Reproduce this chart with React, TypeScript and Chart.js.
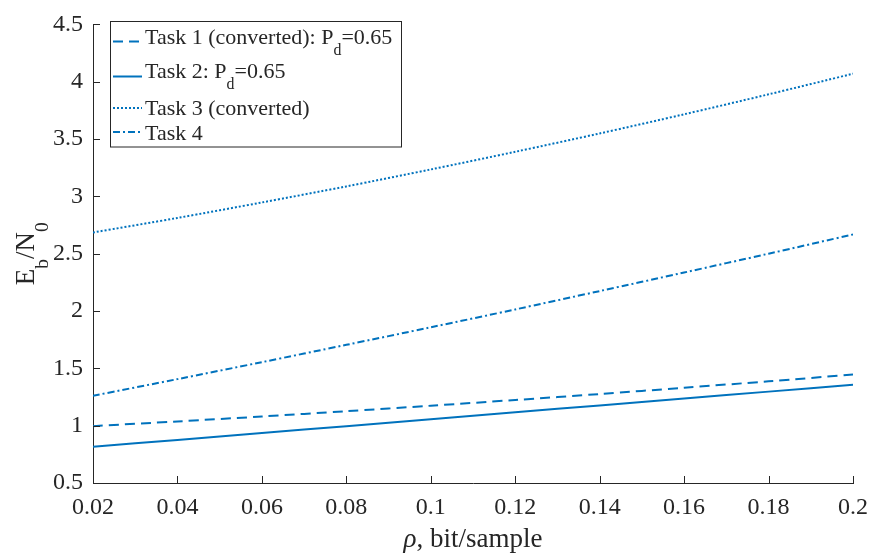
import React, { useEffect, useRef } from "react";
import { Chart, registerables } from "chart.js";

Chart.register(...registerables);

// ---- data ----
const rho = [0.02, 0.04, 0.06, 0.08, 0.1, 0.12, 0.14, 0.16, 0.18, 0.2];
const task1 = [0.996, 1.037, 1.08, 1.126, 1.174, 1.224, 1.276, 1.331, 1.387, 1.446];
const task2 = [0.816, 0.876, 0.936, 0.996, 1.056, 1.117, 1.177, 1.237, 1.297, 1.357];
const task3 = [2.685, 2.812, 2.947, 3.087, 3.235, 3.389, 3.549, 3.716, 3.89, 4.07];
const task4 = [1.261, 1.406, 1.554, 1.705, 1.858, 2.014, 2.174, 2.336, 2.5, 2.668];

const xTicks = [0.02, 0.04, 0.06, 0.08, 0.1, 0.12, 0.14, 0.16, 0.18, 0.2];
const yTicks = [0.5, 1, 1.5, 2, 2.5, 3, 3.5, 4, 4.5];

type Seg = { t: string; sub?: boolean; it?: boolean };
const legendLabels: Seg[][] = [
  [{ t: "Task 1 (converted): P" }, { t: "d", sub: true }, { t: "=0.65" }],
  [{ t: "Task 2: P" }, { t: "d", sub: true }, { t: "=0.65" }],
  [{ t: "Task 3 (converted)" }],
  [{ t: "Task 4" }],
];
const yTitle: Seg[] = [{ t: "E" }, { t: "b", sub: true }, { t: "/N" }, { t: "0", sub: true }];
const xTitle: Seg[] = [{ t: "ρ", it: true }, { t: ", bit/sample" }];

const BLUE = "#0072BD";
const AX = "#262626";
const FONT = "Liberation Serif";
const DASHES: number[][] = [[10, 6], [], [2, 2], [7, 3, 2, 3]];

function fontStr(size: number, it?: boolean) {
  return `${it ? "italic " : ""}${size}px "${FONT}"`;
}

function measureRich(ctx: CanvasRenderingContext2D, segs: Seg[], size: number) {
  let w = 0;
  for (const s of segs) {
    ctx.font = fontStr(s.sub ? size * 0.72 : size, s.it);
    w += ctx.measureText(s.t).width;
  }
  return w;
}

function drawRich(ctx: CanvasRenderingContext2D, segs: Seg[], x: number, y: number, size: number) {
  ctx.textBaseline = "alphabetic";
  ctx.textAlign = "left";
  let cx = x;
  for (const s of segs) {
    const sz = s.sub ? size * 0.72 : size;
    ctx.font = fontStr(sz, s.it);
    ctx.fillText(s.t, cx, s.sub ? y + size * 0.5 : y);
    cx += ctx.measureText(s.t).width;
  }
}

const customPlugin = {
  id: "matlabStyle",
  afterDraw(chart: any) {
    const ctx: CanvasRenderingContext2D = chart.ctx;
    const xs = chart.scales.x;
    const ys = chart.scales.y;
    const area = chart.chartArea;
    ctx.save();
    ctx.strokeStyle = AX;
    ctx.lineWidth = 1;
    // inward ticks
    for (const v of xTicks) {
      const px = Math.round(xs.getPixelForValue(v)) + 0.5;
      ctx.beginPath();
      ctx.moveTo(px, area.bottom);
      ctx.lineTo(px, area.bottom - 7);
      ctx.stroke();
    }
    for (const v of yTicks) {
      const py = Math.round(ys.getPixelForValue(v)) + 0.5;
      ctx.beginPath();
      ctx.moveTo(area.left, py);
      ctx.lineTo(area.left + 7, py);
      ctx.stroke();
    }

    // legend
    const bx = 110.5, by = 21.5, bw = 291, bh = 125.5;
    ctx.fillStyle = "#ffffff";
    ctx.fillRect(bx, by, bw, bh);
    ctx.strokeStyle = AX;
    ctx.strokeRect(bx, by, bw, bh);
    const rows = [
      { sy: 41.5, ty: 43.5 },
      { sy: 76.5, ty: 78 },
      { sy: 108, ty: 114.5 },
      { sy: 132, ty: 140 },
    ];
    legendLabels.forEach((segs, i) => {
      const r = rows[i];
      ctx.strokeStyle = BLUE;
      ctx.lineWidth = 2;
      ctx.setLineDash(DASHES[i]);
      ctx.beginPath();
      ctx.moveTo(113, r.sy);
      ctx.lineTo(142, r.sy);
      ctx.stroke();
      ctx.setLineDash([]);
      ctx.fillStyle = AX;
      drawRich(ctx, segs, 145, r.ty, 22);
    });

    // axis titles
    ctx.fillStyle = AX;
    const xw = measureRich(ctx, xTitle, 27);
    drawRich(ctx, xTitle, (area.left + area.right) / 2 - xw / 2, 547, 27);

    ctx.save();
    ctx.translate(34, (area.top + area.bottom) / 2);
    ctx.rotate(-Math.PI / 2);
    const yw = measureRich(ctx, yTitle, 27);
    drawRich(ctx, yTitle, -yw / 2, 0, 27);
    ctx.restore();

    ctx.restore();
  },
};

function fmt(v: number) {
  return String(Number(v.toFixed(2)));
}

export default function App() {
  const ref = useRef<HTMLCanvasElement | null>(null);
  useEffect(() => {
    if (!ref.current) return;
    const series = [task1, task2, task3, task4];
    const chart = new Chart(ref.current, {
      type: "line",
      data: {
        datasets: series.map((s, i) => ({
          label: `Task ${i + 1}`,
          data: rho.map((x, j) => ({ x, y: s[j] })),
          borderColor: BLUE,
          borderWidth: 2,
          borderDash: DASHES[i],
          pointRadius: 0,
          fill: false,
          tension: 0.3,
        })),
      },
      options: {
        animation: false,
        responsive: false,
        maintainAspectRatio: false,
        layout: { padding: { top: 14, right: 19, bottom: 0, left: 0 } },
        plugins: { legend: { display: false }, tooltip: { enabled: false } },
        scales: {
          x: {
            type: "linear",
            min: 0.02,
            max: 0.2,
            afterBuildTicks: (s: any) => {
              s.ticks = xTicks.map((v) => ({ value: v }));
            },
            afterFit: (s: any) => {
              s.height = 72;
            },
            grid: { display: false, drawTicks: false },
            border: { display: true, color: AX, width: 1 },
            ticks: {
              padding: 10,
              color: AX,
              font: { family: FONT, size: 24 },
              maxRotation: 0,
              autoSkip: false,
              callback: (v: any) => fmt(Number(v)),
            },
          },
          y: {
            type: "linear",
            min: 0.5,
            max: 4.5,
            afterBuildTicks: (s: any) => {
              s.ticks = yTicks.map((v) => ({ value: v }));
            },
            afterFit: (s: any) => {
              s.width = 93;
            },
            grid: { display: false, drawTicks: false },
            border: { display: true, color: AX, width: 1 },
            ticks: {
              padding: 10,
              color: AX,
              font: { family: FONT, size: 24 },
              autoSkip: false,
              callback: (v: any) => fmt(Number(v)),
            },
          },
        },
      },
      plugins: [customPlugin],
    } as any);
    return () => chart.destroy();
  }, []);
  return (
    <div style={{ position: "absolute", left: 0, top: 0, width: 878, height: 555, background: "#fff" }}>
      <canvas ref={ref} width={878} height={555} style={{ display: "block" }} />
    </div>
  );
}
